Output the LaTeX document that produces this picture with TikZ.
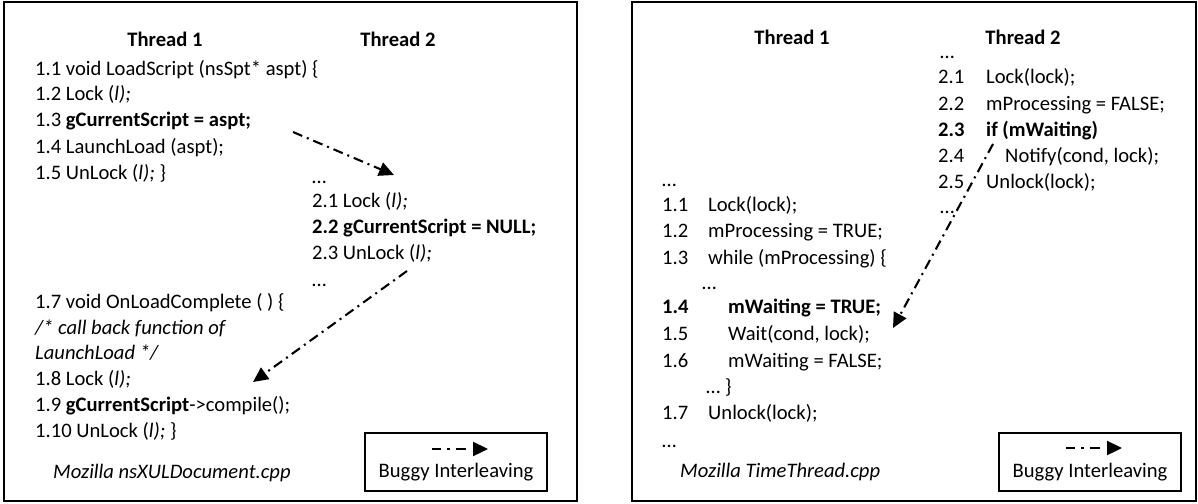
\documentclass[tikz,border=0pt]{standalone}
\usepackage{fontspec}
\setmainfont{Carlito}
\usetikzlibrary{arrows.meta}

\begin{document}
\begin{tikzpicture}[x=1pt,y=-1pt,
  txt/.style={anchor=base west,inner sep=0pt,font=\fontsize{20.6}{24}\selectfont},
  hdr/.style={anchor=base,inner sep=0pt,font=\fontsize{20.6}{24}\selectfont\bfseries},
  ctr/.style={anchor=base,inner sep=0pt,font=\fontsize{20.6}{24}\selectfont},
  panel/.style={draw,line width=1.6pt},
  legendbox/.style={draw,line width=1.4pt},
  interleave/.style={line width=2.1pt,dash pattern=on 10pt off 5pt on 2pt off 5pt,
    -{Triangle[length=15pt,width=14pt]}},
  legendarrow/.style={line width=2.3pt,dash pattern=on 9pt off 6pt on 2.5pt off 6pt on 10pt off 40pt,
    -{Triangle[length=15pt,width=14pt]}},
]
\useasboundingbox (0,0) rectangle (1198,503);

% ---------- left panel: nsXULDocument ----------
\draw[panel] (4,2) rectangle (577,501);
\node[hdr] (lh1) at (165,47) {Thread 1};
\node[hdr] (lh2) at (398,47) {Thread 2};

\node[txt] (l11) at (35,75) {1.1 void LoadScript (nsSpt* aspt) \{};
\node[txt] (l12) at (35,100) {1.2 Lock (\textit{l);}};
\node[txt] (l13) at (35,126) {1.3 \textbf{gCurrentScript = aspt;}};
\node[txt] (l14) at (35,153) {1.4 LaunchLoad (aspt);};
\node[txt] (l15) at (35,179) {1.5 UnLock (\textit{l);} \}};

\node[txt] (l20) at (312,183) {…};
\node[txt] (l21) at (312,207) {2.1 Lock (\textit{l);}};
\node[txt] (l22) at (312,233) {\textbf{2.2 gCurrentScript = NULL;}};
\node[txt] (l23) at (312,259) {2.3 UnLock (\textit{l);}};
\node[txt] (l24) at (312,286) {…};

\node[txt] (l17) at (35,308) {1.7 void OnLoadComplete ( ) \{};
\node[txt] (lc1) at (35,334) {\textit{/* call back function of}};
\node[txt] (lc2) at (35,359) {\textit{LaunchLoad */}};
\node[txt] (l18) at (35,385) {1.8 Lock (\textit{l);}};
\node[txt] (l19) at (35,411) {1.9 \textbf{gCurrentScript}->compile();};
\node[txt] (l110) at (35,437) {1.10 UnLock (\textit{l);} \}};
\node[txt] (lsrc) at (53,478) {\textit{Mozilla nsXULDocument.cpp}};

% interleaving arrows
\coordinate (a1s) at (293,132);
\coordinate (a1e) at (394,175);
\coordinate (a2s) at (407,271);
\coordinate (a2e) at (253,382);
\draw[interleave] (a1s) -- (a1e);
\draw[interleave] (a2s) -- (a2e);

% legend
\draw[legendbox] (365,433) rectangle (547,491);
\coordinate (lgs) at (432,449);
\coordinate (lge) at (488,449);
\draw[legendarrow] (lgs) -- (lge);
\node[ctr] (lgt) at (456,477) {Buggy Interleaving};

% ---------- right panel: TimeThread ----------
\draw[panel] (632,2) rectangle (1196,501);
\node[hdr] (rh1) at (792,45) {Thread 1};
\node[hdr] (rh2) at (1023,45) {Thread 2};

% thread 2
\node[txt] (r20) at (940,59) {…};
\node[txt] (r21n) at (938,83) {2.1};
\node[txt] (r21) at (986,83) {Lock(lock);};
\node[txt] (r22n) at (938,110) {2.2};
\node[txt] (r22) at (986,110) {mProcessing = FALSE;};
\node[txt] (r23n) at (938,136) {\textbf{2.3}};
\node[txt] (r23) at (986,136) {\textbf{if (mWaiting)}};
\node[txt] (r24n) at (938,162) {2.4};
\node[txt] (r24) at (1005,162) {Notify(cond, lock);};
\node[txt] (r25n) at (938,188) {2.5};
\node[txt] (r25) at (986,188) {Unlock(lock);};
\node[txt] (r26) at (940,213) {…};

% thread 1
\node[txt] (r10) at (662,186) {…};
\node[txt] (r11n) at (662,211) {1.1};
\node[txt] (r11) at (708,211) {Lock(lock);};
\node[txt] (r12n) at (662,237) {1.2};
\node[txt] (r12) at (708,237) {mProcessing = TRUE;};
\node[txt] (r13n) at (662,264) {1.3};
\node[txt] (r13) at (708,264) {while (mProcessing) \{};
\node[txt] (r1d) at (702,289) {…};
\node[txt] (r14n) at (662,313) {\textbf{1.4}};
\node[txt] (r14) at (728,313) {\textbf{mWaiting = TRUE;}};
\node[txt] (r15n) at (662,340) {1.5};
\node[txt] (r15) at (728,340) {Wait(cond, lock);};
\node[txt] (r16n) at (662,367) {1.6};
\node[txt] (r16) at (728,367) {mWaiting = FALSE;};
\node[txt] (r1e) at (706,393) {… \}};
\node[txt] (r17n) at (662,419) {1.7};
\node[txt] (r17) at (708,419) {Unlock(lock);};
\node[txt] (r18) at (662,447) {…};
\node[txt] (rsrc) at (680,477) {\textit{Mozilla TimeThread.cpp}};

\coordinate (a3s) at (993,144);
\coordinate (a3e) at (893,328);
\draw[interleave] (a3s) -- (a3e);

% legend
\draw[legendbox] (999,433) rectangle (1181,491);
\coordinate (rgs) at (1066,448);
\coordinate (rge) at (1122,448);
\draw[legendarrow] (rgs) -- (rge);
\node[ctr] (rgt) at (1090,477) {Buggy Interleaving};
\end{tikzpicture}
\end{document}
